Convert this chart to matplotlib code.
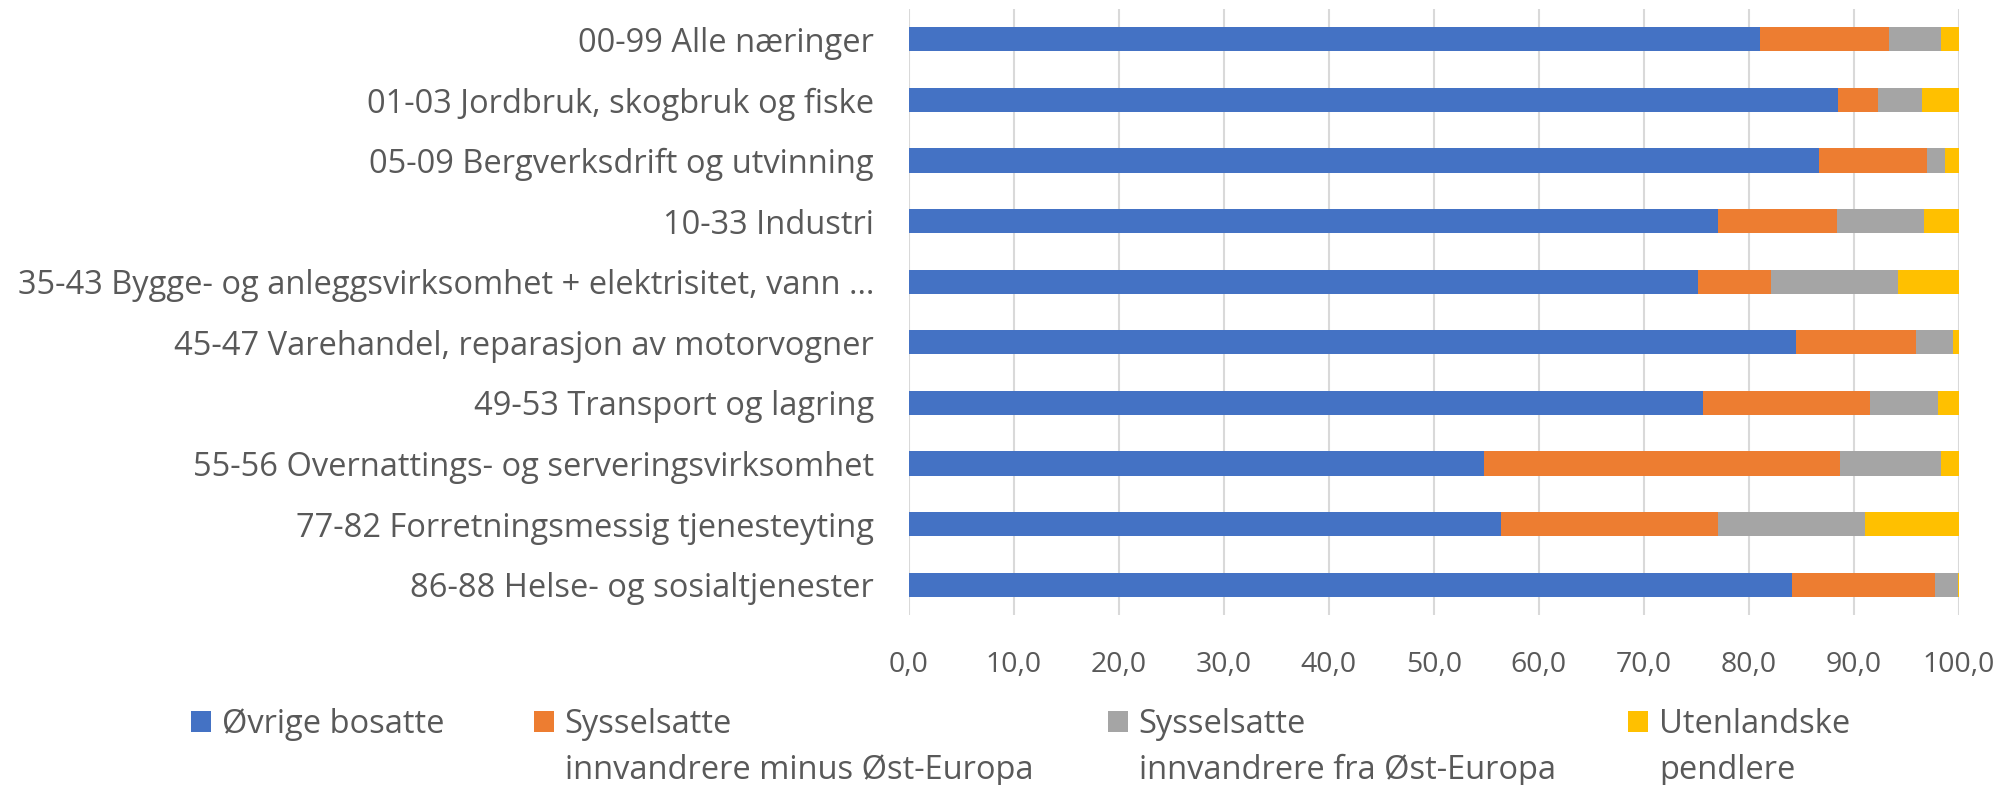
import matplotlib.pyplot as plt
import numpy as np

plt.rcParams['font.family'] = ['Open Sans', 'DejaVu Sans']

categories = [
    "00-99 Alle næringer",
    "01-03 Jordbruk, skogbruk og fiske",
    "05-09 Bergverksdrift og utvinning",
    "10-33 Industri",
    "35-43 Bygge- og anleggsvirksomhet + elektrisitet, vann \u2026",
    "45-47 Varehandel, reparasjon av motorvogner",
    "49-53 Transport og lagring",
    "55-56 Overnattings- og serveringsvirksomhet",
    "77-82 Forretningsmessig tjenesteyting",
    "86-88 Helse- og sosialtjenester",
]

ovrige = [81.1, 88.5, 86.7, 77.1, 75.2, 84.5, 75.6, 54.8, 56.4, 84.1]
minus_ost = [12.2, 3.8, 10.3, 11.3, 6.9, 11.4, 15.9, 33.9, 20.7, 13.6]
fra_ost = [5.0, 4.2, 1.7, 8.3, 12.1, 3.55, 6.5, 9.6, 14.0, 2.2]
pendlere = [1.7, 3.5, 1.3, 3.3, 5.8, 0.55, 2.0, 1.7, 8.9, 0.1]

series = [ovrige, minus_ost, fra_ost, pendlere]
names = ["Øvrige bosatte",
         "Sysselsatte\ninnvandrere minus Øst-Europa",
         "Sysselsatte\ninnvandrere fra Øst-Europa",
         "Utenlandske\npendlere"]
colors = ["#4472C4", "#ED7D31", "#A5A5A5", "#FFC000"]
ticks = np.arange(0, 101, 10)
txt = "#595959"

fig = plt.figure(figsize=(20.1, 7.85), dpi=100)
ax = fig.add_axes([0.4521, 0.2166, 0.5225, 0.7719])

y = np.arange(len(categories))
left = np.zeros(len(categories))
bars = []
for vals, name, c in zip(series, names, colors):
    b = ax.barh(y, vals, left=left, height=0.4, color=c, label=name, zorder=3)
    bars.append(b)
    left = left + np.array(vals)

ax.set_ylim(-0.5, len(categories) - 0.5)
ax.invert_yaxis()
ax.set_xlim(0, 100)
ax.set_xticks(ticks)
ax.set_xticklabels([f"{t:.1f}".replace(".", ",") for t in ticks])
ax.set_yticks(y)
ax.set_yticklabels(categories)
ax.tick_params(axis='y', length=0, pad=25, labelsize=23.5, labelcolor=txt)
ax.tick_params(axis='x', length=0, pad=26, labelsize=20.5, labelcolor=txt)
ax.grid(axis='x', color="#D9D9D9", linewidth=1.5, zorder=0)
for s in ax.spines.values():
    s.set_visible(False)

# legend: one entry each, placed like the Excel layout
leg_x = [0.0950, 0.2657, 0.5512, 0.8100]
legends = []
for b, name, lx in zip(bars, names, leg_x):
    lg = fig.legend([b], [name.split("\n")[0]], loc='center left',
                    bbox_to_anchor=(lx, 0.0775), frameon=False,
                    borderpad=0, borderaxespad=0, fontsize=23.5,
                    handlelength=0.62, handleheight=0.62, handletextpad=0.32,
                    labelcolor=txt)
    legends.append(lg)

fig.canvas.draw()
r = fig.canvas.get_renderer()
W = fig.bbox.width
for lg, name in zip(legends, names):
    parts = name.split("\n")
    if len(parts) > 1:
        x0 = lg.get_texts()[0].get_window_extent(r).x0
        fig.text(x0 / W, 0.008, parts[1], fontsize=23.5, color=txt,
                 va='baseline', ha='left')

fig.savefig("out.png", dpi=100)
